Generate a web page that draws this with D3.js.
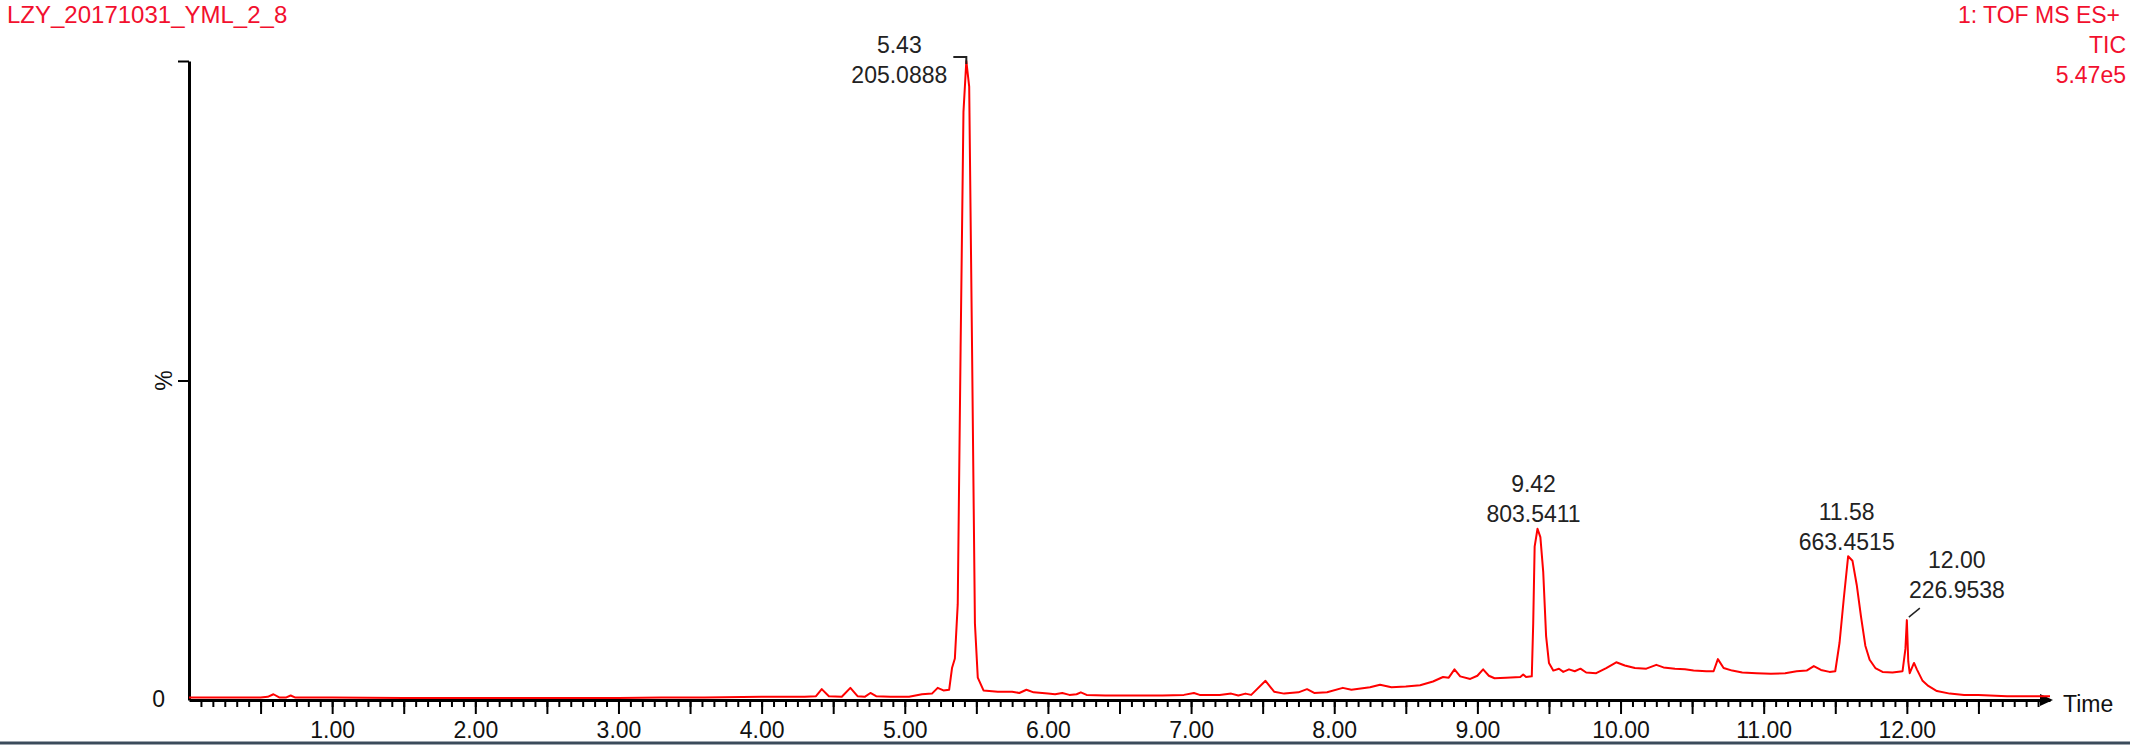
<!DOCTYPE html>
<html>
<head>
<meta charset="utf-8">
<script src="https://cdnjs.cloudflare.com/ajax/libs/d3/7.8.5/d3.min.js"></script>
<style>
  body { margin: 0; background: #fff; }
  text { font-family: Arial, "Liberation Sans", sans-serif; }
</style>
</head>
<body>
<div id="chart"></div>
<script>
// Retention time (min) and TIC intensity (% of 5.47e5)
var times = [0.00, 0.20, 0.50, 0.55, 0.59, 0.63, 0.68, 0.71, 0.74, 1.00, 1.50, 2.00, 2.50, 3.00, 3.30, 3.60, 4.00, 4.30,
  4.38, 4.42, 4.47, 4.56, 4.62, 4.67, 4.72, 4.76, 4.80, 4.90, 5.03, 5.12, 5.19, 5.23, 5.27, 5.31, 5.33, 5.35, 5.37,
  5.39, 5.41, 5.43, 5.45, 5.47, 5.49, 5.51, 5.55, 5.65, 5.75, 5.80, 5.85, 5.90, 6.00, 6.05, 6.10, 6.15, 6.20, 6.23,
  6.27, 6.40, 6.60, 6.80, 6.95, 7.02, 7.06, 7.20, 7.28, 7.33, 7.38, 7.42, 7.52, 7.58, 7.65, 7.75, 7.81, 7.86, 7.95,
  8.06, 8.12, 8.25, 8.32, 8.40, 8.50, 8.60, 8.69, 8.76, 8.80, 8.84, 8.88, 8.95, 9.00, 9.04, 9.08, 9.12, 9.20, 9.30,
  9.32, 9.34, 9.38, 9.39, 9.40, 9.42, 9.44, 9.46, 9.48, 9.50, 9.53, 9.57, 9.60, 9.64, 9.68, 9.72, 9.76, 9.83, 9.90,
  9.97, 10.03, 10.10, 10.18, 10.25, 10.30, 10.38, 10.45, 10.51, 10.60, 10.65, 10.68, 10.72, 10.78, 10.85, 10.95,
  11.05, 11.15, 11.23, 11.30, 11.35, 11.40, 11.46, 11.50, 11.53, 11.56, 11.59, 11.62, 11.65, 11.68, 11.71, 11.74,
  11.78, 11.83, 11.90, 11.97, 11.99, 12.00, 12.01, 12.02, 12.05, 12.07, 12.11, 12.15, 12.21, 12.30, 12.40, 12.50,
  12.70, 13.00];
var intensity = [0.4, 0.4, 0.4, 0.5, 0.9, 0.4, 0.4, 0.7, 0.4, 0.4, 0.3, 0.3, 0.3, 0.3, 0.4, 0.4, 0.5, 0.5,
  0.6, 1.7, 0.6, 0.5, 1.9, 0.6, 0.5, 1.1, 0.6, 0.5, 0.5, 0.9, 1.0, 1.9, 1.5, 1.6, 5.0, 6.5, 15,
  55, 92, 100, 96, 55, 12, 3.5, 1.5, 1.3, 1.3, 1.1, 1.6, 1.2, 1.0, 0.9, 1.1, 0.8, 0.9, 1.2,
  0.8, 0.7, 0.7, 0.7, 0.8, 1.1, 0.8, 0.8, 1.0, 0.7, 1.0, 0.8, 3.0, 1.3, 1.0, 1.2, 1.7, 1.1, 1.2,
  1.9, 1.6, 2.0, 2.4, 2.0, 2.1, 2.3, 2.9, 3.6, 3.5, 4.8, 3.7, 3.3, 3.8, 4.8, 3.8, 3.4, 3.5, 3.6,
  4.0, 3.6, 3.7, 12, 24, 26.8, 25.5, 20, 10, 5.8, 4.6, 4.9, 4.4, 4.8, 4.5, 4.9, 4.3, 4.2, 5.0,
  5.9, 5.4, 5.0, 4.9, 5.5, 5.1, 4.9, 4.8, 4.6, 4.5, 4.5, 6.4, 5.0, 4.6, 4.3, 4.2,
  4.1, 4.2, 4.5, 4.6, 5.3, 4.7, 4.4, 4.5, 9, 16, 22.5, 21.8, 18, 13, 8.5, 6.3,
  5.0, 4.4, 4.3, 4.5, 8, 12.5, 6, 4.2, 5.8, 4.8, 3.0, 2.2, 1.4, 1.0, 0.8, 0.8,
  0.6, 0.6];

// Annotated peaks
var peakTimes = [5.43, 9.42, 11.58, 12.00];
var peakHeights = [100, 26.8, 22.5, 12.5];
var peakMasses = ["205.0888", "803.5411", "663.4515", "226.9538"];

// Axis ticks
var majorTicks = [1, 2, 3, 4, 5, 6, 7, 8, 9, 10, 11, 12];
var halfTicks = [0.5, 1.5, 2.5, 3.5, 4.5, 5.5, 6.5, 7.5, 8.5, 9.5, 10.5, 11.5, 12.5];

var titleLeft = "LZY_20171031_YML_2_8";
var titleRight = ["1: TOF MS ES+", "TIC", "5.47e5"];

var W = 2133, H = 747;
var red = "#f2102e";

var svg = d3.select("#chart").append("svg")
    .attr("width", W)
    .attr("height", H);

svg.append("rect").attr("width", W).attr("height", H).attr("fill", "#fff");

var x = d3.scaleLinear().domain([0, 13]).range([189, 2050]);
var y = d3.scaleLinear().domain([0, 100]).range([700, 61]);

// minor ticks every 5 s
var minorTicks = d3.range(1, 156).map(function(i) { return i / 12; });

svg.append("g")
    .attr("transform", "translate(0," + y(0) + ")")
    .call(d3.axisBottom(x).tickValues(minorTicks).tickSize(7).tickSizeOuter(0).tickFormat(""))
    .call(function(g) { g.select(".domain").remove(); })
    .selectAll("line").attr("stroke", "#000").attr("stroke-width", 2);

svg.append("g")
    .attr("transform", "translate(0," + y(0) + ")")
    .call(d3.axisBottom(x).tickValues(halfTicks).tickSize(14).tickSizeOuter(0).tickFormat(""))
    .call(function(g) { g.select(".domain").remove(); })
    .selectAll("line").attr("stroke", "#000").attr("stroke-width", 2);

var xAxis = svg.append("g")
    .attr("transform", "translate(0," + y(0) + ")")
    .call(d3.axisBottom(x).tickValues(majorTicks).tickSize(14).tickSizeOuter(0)
      .tickPadding(24).tickFormat(d3.format(".2f")));
xAxis.select(".domain").attr("stroke", "#000").attr("stroke-width", 3);
xAxis.selectAll("line").attr("stroke", "#000").attr("stroke-width", 2);
xAxis.selectAll("text")
    .attr("font-size", 23)
    .attr("fill", "#111")
    .attr("dy", "0em")
    .attr("y", 38);

// arrow head at the end of the time axis
svg.append("path")
    .attr("d", "M" + (x(13) - 10) + "," + (y(0) - 6) + "L" + (x(13) + 3) + "," + y(0) + "L" + (x(13) - 10) + "," + (y(0) + 6) + "Z")
    .attr("fill", "#000");

var yAxis = svg.append("g")
    .attr("transform", "translate(" + x(0) + ",0)")
    .call(d3.axisLeft(y).tickValues([0, 50, 100]).tickSize(11).tickSizeOuter(0).tickPadding(13)
      .tickFormat(function(d) { return d === 0 ? "0" : ""; }));
yAxis.select(".domain").attr("stroke", "#000").attr("stroke-width", 3);
yAxis.selectAll("line").attr("stroke", "#000").attr("stroke-width", 2);
yAxis.selectAll(".tick").filter(function(d) { return d === 0; }).select("line").remove();
yAxis.selectAll("text").attr("font-size", 23).attr("fill", "#111").attr("dy", "0.3em");

svg.append("text")
    .attr("transform", "translate(172," + y(50) + ") rotate(-90)")
    .attr("text-anchor", "middle")
    .attr("font-size", 23)
    .attr("fill", "#111")
    .text("%");

svg.append("text")
    .attr("x", 2063)
    .attr("y", 712)
    .attr("font-size", 23)
    .attr("fill", "#111")
    .text("Time");

// TIC trace
var line = d3.line()
    .x(function(d, i) { return x(times[i]); })
    .y(function(d) { return y(d); });

svg.append("path")
    .datum(intensity)
    .attr("d", line)
    .attr("fill", "none")
    .attr("stroke", "#ff0000")
    .attr("stroke-width", 2)
    .attr("stroke-linejoin", "round");

// peak annotations
var labelDx = [-67, -4, 0, 50];
var labelDy = [-7, -7, -6, -22];

peakTimes.forEach(function(t, i) {
  var px = x(t), py = y(peakHeights[i]);
  var g = svg.append("g").attr("font-size", 23).attr("fill", "#222").attr("text-anchor", "middle");
  var lx = px + labelDx[i], ly = (i === 0 ? 83 : py + labelDy[i]);
  g.append("text").attr("x", lx).attr("y", ly - 30).text(t.toFixed(2));
  g.append("text").attr("x", lx).attr("y", ly).text(peakMasses[i]);
});

// leader marks
svg.append("path")
    .attr("d", "M" + (x(5.43) - 13) + "," + (y(100) - 4) + "H" + x(5.43) + "V" + (y(100) + 3))
    .attr("fill", "none").attr("stroke", "#222").attr("stroke-width", 2);
svg.append("path")
    .attr("d", "M" + (x(12) + 2) + "," + (y(12.5) - 3) + "L" + (x(12) + 13) + "," + (y(12.5) - 12))
    .attr("fill", "none").attr("stroke", "#222").attr("stroke-width", 1.5);

// titles
svg.append("text")
    .attr("x", 7).attr("y", 23)
    .attr("font-size", 24)
    .attr("fill", red)
    .text(titleLeft);

titleRight.forEach(function(s, i) {
  svg.append("text")
      .attr("x", i === 0 ? 2120 : 2126)
      .attr("y", 23 + i * 30)
      .attr("text-anchor", "end")
      .attr("font-size", 23)
      .attr("fill", red)
      .text(s);
});

// bottom window border
svg.append("line")
    .attr("x1", 0).attr("x2", 2130)
    .attr("y1", 743).attr("y2", 743)
    .attr("stroke", "#3b4b5b")
    .attr("stroke-width", 3);
</script>
</body>
</html>
